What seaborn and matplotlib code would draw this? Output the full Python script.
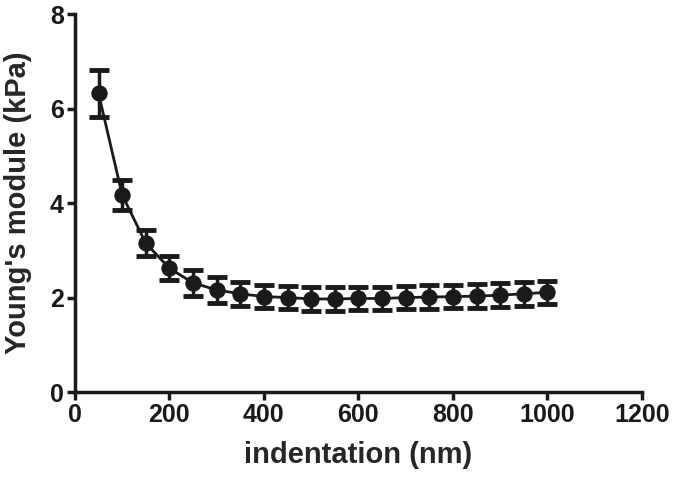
import matplotlib
matplotlib.use("Agg")
import matplotlib.pyplot as plt
import numpy as np
import pandas as pd
import seaborn as sns

indentation = [50, 100, 150, 200, 250, 300, 350, 400, 450, 500,
               550, 600, 650, 700, 750, 800, 850, 900, 950, 1000]
modulus = [6.32, 4.17, 3.15, 2.62, 2.31, 2.16, 2.08, 2.02, 2.00, 1.97,
           1.97, 1.98, 1.98, 2.00, 2.01, 2.02, 2.03, 2.05, 2.08, 2.11]
sem = [0.49, 0.31, 0.28, 0.25, 0.27, 0.27, 0.25, 0.25, 0.25, 0.25,
       0.25, 0.25, 0.25, 0.25, 0.25, 0.25, 0.25, 0.25, 0.25, 0.24]

sns.set_theme(style="ticks")
plt.rcParams["font.family"] = ["Liberation Sans", "DejaVu Sans"]
plt.rcParams["font.weight"] = "bold"

df = pd.DataFrame({"indentation": indentation, "modulus": modulus, "sem": sem})
ink = "#1a1a1a"

fig = plt.figure(figsize=(6.75, 4.84), dpi=100)
ax = fig.add_axes([0.111, 0.19, 0.84, 0.781])

ax.errorbar(df["indentation"], df["modulus"], yerr=df["sem"], fmt="none",
            ecolor=ink, elinewidth=2.5, capsize=7.5, capthick=3.5, zorder=2)
sns.lineplot(data=df, x="indentation", y="modulus", ax=ax, color=ink,
             linewidth=2, marker="o", markersize=11, markeredgecolor=ink,
             zorder=3)

ax.set_xlim(0, 1200)
ax.set_ylim(0, 8)
ax.set_xticks(range(0, 1201, 200))
ax.set_yticks(range(0, 9, 2))
ax.set_xlabel("indentation (nm)", fontsize=21, fontweight="bold", labelpad=10)
ax.set_ylabel("Young's module (kPa)", fontsize=21, fontweight="bold", labelpad=13)
ax.tick_params(axis="both", labelsize=18, width=2.5, length=6, color=ink,
               labelcolor=ink, direction="out", pad=2)
for lab in ax.get_xticklabels() + ax.get_yticklabels():
    lab.set_fontweight("bold")
sns.despine(ax=ax)
for side in ("left", "bottom"):
    ax.spines[side].set_linewidth(2.5)
    ax.spines[side].set_color(ink)
ax.spines["left"].set_bounds(0, 8)

fig.savefig("out.png", dpi=100)
